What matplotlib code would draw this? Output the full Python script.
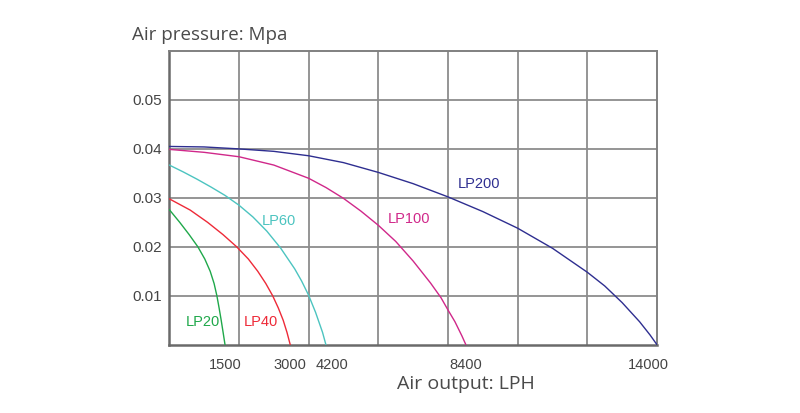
import numpy as np
import matplotlib
matplotlib.use("Agg")
import matplotlib.pyplot as plt
from matplotlib.transforms import ScaledTranslation, blended_transform_factory

# ------------------------------------------------------
# DATA
# ------------------------------------------------------

# the flow axis on the sheet is not linear: every labelled flow sits at the
# end of its curve while the grid splits the box into 7 equal columns
LPH_ANCHORS = [0, 1500, 3000, 4200, 8400, 14000]
GRID_ANCHORS = [0, 0.80, 1.736, 2.248, 4.257, 7.0]

LP20_FLOW = [0, 281, 534, 769, 956, 1101, 1206, 1281, 1341, 1397, 1449, 1500]
LP20_PRES = [0.0276, 0.0250, 0.0225, 0.0200, 0.0175, 0.0150, 0.0125, 0.0100,
             0.0075, 0.0050, 0.0025, 0.0]

LP40_FLOW = [0, 563, 1031, 1444, 1768, 2037, 2253, 2438, 2596, 2726, 2838,
             2926, 3000]
LP40_PRES = [0.0298, 0.0275, 0.0250, 0.0225, 0.0200, 0.0175, 0.0150, 0.0125,
             0.0100, 0.0075, 0.0050, 0.0025, 0.0]

LP60_FLOW = [0, 375, 750, 1125, 1500, 1821, 2141, 2462, 2782, 3150, 3384,
             3619, 3853, 4088, 4200]
LP60_PRES = [0.0367, 0.0353, 0.0338, 0.0322, 0.0305, 0.0285, 0.0261, 0.0232,
             0.0197, 0.0155, 0.0130, 0.0101, 0.0066, 0.0025, 0.0]

LP100_FLOW = [0, 938, 1821, 2622, 3619, 4204, 4727, 5249, 5772, 6295, 6817,
              7340, 7654, 7863, 8072, 8281, 8400]
LP100_PRES = [0.0399, 0.0393, 0.0384, 0.0367, 0.0340, 0.0321, 0.0299, 0.0273,
              0.0244, 0.0211, 0.0171, 0.0126, 0.0096, 0.0071, 0.0047, 0.0018,
              0.0]

LP200_FLOW = [0, 938, 1821, 2622, 3619, 4727, 5772, 6817, 7863, 8896, 9917,
              10938, 11959, 12469, 12979, 13490, 13796, 14000]
LP200_PRES = [0.0405, 0.0404, 0.0400, 0.0395, 0.0386, 0.0372, 0.0352, 0.0329,
              0.0302, 0.0272, 0.0238, 0.0197, 0.0148, 0.0120, 0.0086, 0.0047,
              0.0020, 0.0]

MODELS = ["LP20", "LP40", "LP60", "LP100", "LP200"]
FLOW_TICKS = [1500, 3000, 4200, 8400, 14000]
PRES_TICKS = [0.01, 0.02, 0.03, 0.04, 0.05]

# ------------------------------------------------------
# STYLE
# ------------------------------------------------------

COLORS = {
    "LP20": "#1fa84a",
    "LP40": "#ee2a38",
    "LP60": "#4cc4c0",
    "LP100": "#d0288a",
    "LP200": "#2e2e90",
}
# where each curve name is written (flow, pressure)
LABEL_POS = {
    "LP20": (441, 0.0046),
    "LP40": (1942, 0.0046),
    "LP60": (2349, 0.0253),
    "LP100": (6063, 0.0256),
    "LP200": (8160, 0.0329),
}
TICK_NUDGE_PX = [0, 0, 6, 0, -9]
GRID_COLOR = "#8c8c8c"
TEXT_COLOR = "#4a4a4a"
DPI = 100


def to_grid(x):
    return np.interp(x, LPH_ANCHORS, GRID_ANCHORS)


def from_grid(u):
    return np.interp(u, GRID_ANCHORS, LPH_ANCHORS)


fig = plt.figure(figsize=(8.0, 4.13), dpi=DPI)
ax = fig.add_axes([0.2116, 0.1654, 0.6096, 0.7111])
ax.set_xscale("function", functions=(to_grid, from_grid))

curves = {
    "LP20": (LP20_FLOW, LP20_PRES),
    "LP40": (LP40_FLOW, LP40_PRES),
    "LP60": (LP60_FLOW, LP60_PRES),
    "LP100": (LP100_FLOW, LP100_PRES),
    "LP200": (LP200_FLOW, LP200_PRES),
}
for name in MODELS:
    flow, pres = curves[name]
    ax.plot(flow, pres, color=COLORS[name], lw=1.0, solid_joinstyle="round",
            solid_capstyle="round", zorder=3)
    lx, ly = LABEL_POS[name]
    ax.text(lx, ly, name, color=COLORS[name], fontsize=10.5,
            family="Liberation Sans", ha="left", va="center", zorder=4)

ax.set_xlim(0, 14000)
ax.set_ylim(0, 0.06)

# grid: 7 equal columns, rows every 0.01
ax.set_xticks(from_grid(np.arange(1, 7)))
ax.set_xticklabels([])
ax.set_yticks(PRES_TICKS)
ax.set_yticklabels([f"{v:.2f}" for v in PRES_TICKS])
ax.grid(True, color=GRID_COLOR, lw=1.3)
ax.tick_params(length=0)
ax.tick_params(axis="y", pad=5, labelsize=11, labelcolor="#444444")
for lab in ax.get_yticklabels():
    lab.set_family("Liberation Sans")

for side in ["top", "right"]:
    ax.spines[side].set_color("#808080")
    ax.spines[side].set_linewidth(1.4)
for side in ["left", "bottom"]:
    ax.spines[side].set_color("#6a6a6a")
    ax.spines[side].set_linewidth(1.8)

# flow labels sit under the curve ends
trans = blended_transform_factory(ax.transData, ax.transAxes)
for val, dx in zip(FLOW_TICKS, TICK_NUDGE_PX):
    off = ScaledTranslation(dx / DPI, 0, fig.dpi_scale_trans)
    ax.text(val, -0.045, str(val), transform=trans + off, ha="center",
            va="top", fontsize=10.5, family="Liberation Sans",
            color="#444444")

fig.text(132 / 800, 1 - 40 / 413, "Air pressure: Mpa", ha="left",
         va="baseline", fontsize=13.5, family="Open Sans", color=TEXT_COLOR)
fig.text(397 / 800, 1 - 389 / 413, "Air output: LPH", ha="left",
         va="baseline", fontsize=14, family="Open Sans", color=TEXT_COLOR)

fig.savefig("out.png", dpi=DPI, facecolor="white")
